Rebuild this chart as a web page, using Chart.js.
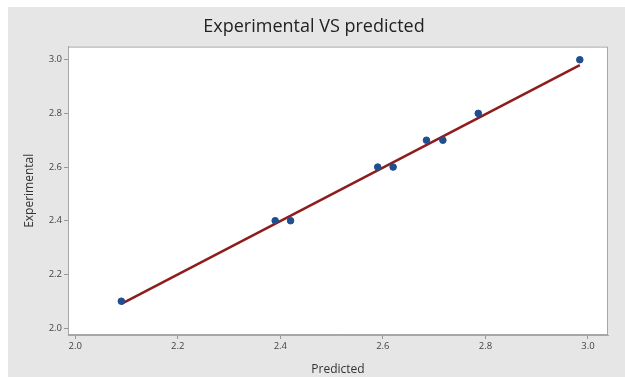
<!DOCTYPE html>
<html>
<head>
<meta charset="utf-8">
<script src="https://cdn.jsdelivr.net/npm/chart.js@4"></script>
<style>
  html, body { margin: 0; padding: 0; background: #fff; }
  #wrap { width: 625px; height: 377px; }
</style>
</head>
<body>
<div id="wrap"><canvas id="fit-plot" width="625" height="377"></canvas></div>
<script>
const predicted = [2.09, 2.39, 2.42, 2.59, 2.62, 2.685, 2.717, 2.786, 2.984];
const experimental = [2.1, 2.4, 2.4, 2.6, 2.6, 2.7, 2.7, 2.8, 3.0];
// fitted line end points
const fitX = [2.09, 2.984];
const fitY = [2.09, 2.98];
const tickValues = [2.0, 2.2, 2.4, 2.6, 2.8, 3.0];

const bgPlugin = {
    id: 'bg',
    beforeDraw(chart) {
        const c = chart.ctx, a = chart.chartArea;
        c.save();
        c.fillStyle = '#fff';
        c.fillRect(0, 0, chart.width, chart.height);
        c.fillStyle = '#e6e6e6';
        c.fillRect(8, 7, chart.width - 8, chart.height - 7);
        c.fillStyle = '#fff';
        c.fillRect(a.left, a.top, a.right - a.left, a.bottom - a.top);
        c.restore();
    },
    afterDatasetsDraw(chart) {
        const c = chart.ctx, a = chart.chartArea;
        c.save();
        c.strokeStyle = '#a6a6a6';
        c.lineWidth = 1;
        c.strokeRect(a.left + 0.5, a.top + 0.5, a.right - a.left - 1, a.bottom - a.top - 1);
        c.restore();
    }
};

var ctx = document.getElementById('fit-plot');
var chart = new Chart(ctx, {
    type: 'scatter',
    data: {
        datasets: [{
            type: 'line',
            label: 'Fit',
            data: fitX.map((x, i) => ({x: x, y: fitY[i]})),
            borderColor: '#8e1c1c',
            borderWidth: 2.5,
            pointRadius: 0,
            order: 2
        }, {
            label: 'Experimental',
            data: predicted.map((x, i) => ({x: x, y: experimental[i]})),
            backgroundColor: '#1f4f8f',
            borderColor: '#1f4f8f',
            pointRadius: 3.3,
            order: 1
        }]
    },
    options: {
        responsive: false,
        animation: false,
        layout: { padding: { top: 7, left: 20, right: 17, bottom: 0 } },
        plugins: {
            legend: { display: false },
            tooltip: { enabled: false },
            title: {
                display: true,
                text: 'Experimental VS predicted',
                color: '#222',
                font: { family: 'Open Sans', size: 18, weight: 'normal' },
                padding: { top: 9, bottom: 9 }
            }
        },
        scales: {
            x: {
                type: 'linear',
                min: 1.986,
                max: 3.039,
                afterBuildTicks: (s) => { s.ticks = tickValues.map(v => ({value: v})); },
                afterFit: (s) => { s.height = 42; },
                grid: { drawOnChartArea: false, drawTicks: true, tickLength: 4, color: '#999' },
                border: { color: '#a6a6a6' },
                ticks: {
                    color: '#444',
                    font: { family: 'Open Sans', size: 9.5 },
                    padding: 2,
                    maxRotation: 0,
                    callback: (v) => v.toFixed(1)
                },
                title: {
                    display: true,
                    text: 'Predicted',
                    color: '#333',
                    font: { family: 'Open Sans', size: 12 },
                    padding: { top: 1, bottom: 0 }
                }
            },
            y: {
                type: 'linear',
                min: 1.974,
                max: 3.049,
                afterBuildTicks: (s) => { s.ticks = tickValues.map(v => ({value: v})); },
                afterFit: (s) => { s.width = 48; },
                grid: { drawOnChartArea: false, drawTicks: true, tickLength: 4, color: '#999' },
                border: { color: '#a6a6a6' },
                ticks: {
                    color: '#444',
                    font: { family: 'Open Sans', size: 9.5 },
                    padding: 2,
                    callback: (v) => v.toFixed(1)
                },
                title: {
                    display: true,
                    text: 'Experimental',
                    color: '#333',
                    font: { family: 'Open Sans', size: 12 },
                    padding: { top: 2, bottom: 6 }
                }
            }
        }
    },
    plugins: [bgPlugin]
});
</script>
</body>
</html>
